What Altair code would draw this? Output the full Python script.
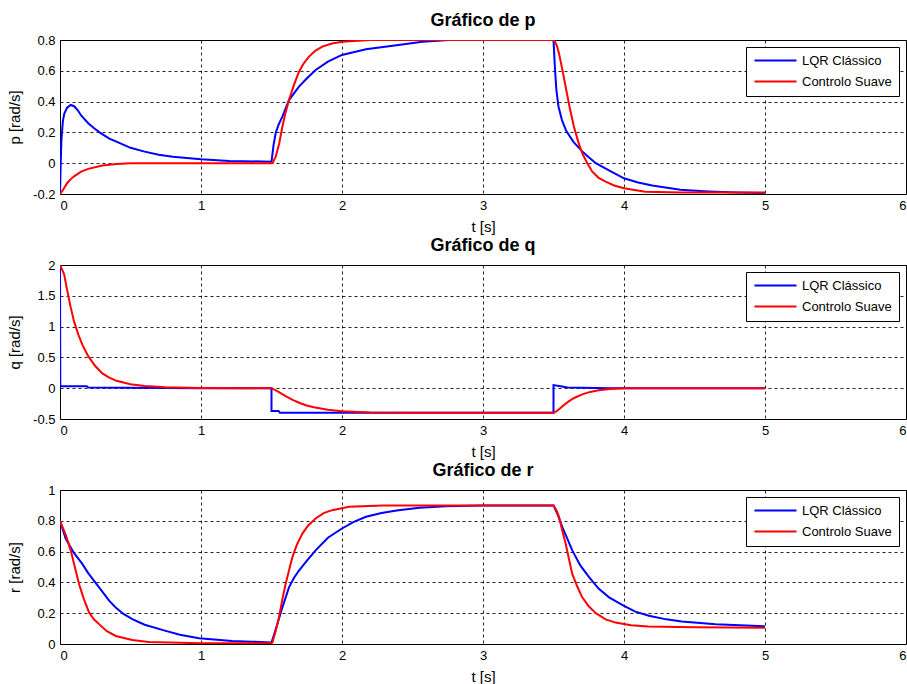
import altair as alt
import pandas as pd

# ---- p (roll rate) ----
t_p_lqr = [0, 0.005, 0.01, 0.02, 0.03, 0.05, 0.076, 0.1, 0.125, 0.15, 0.2, 0.24, 0.28, 0.35, 0.4, 0.5, 0.6, 0.7, 0.8, 1.0, 1.2, 1.5,
           1.515, 1.53, 1.55, 1.577, 1.624, 1.695, 1.75, 1.813, 1.9, 2.0, 2.17, 2.4, 2.57, 2.76, 3.0, 3.5,
           3.51, 3.52, 3.535, 3.56, 3.59, 3.64, 3.7, 3.75, 3.8, 3.9, 4.0, 4.1, 4.2, 4.4, 4.6, 4.8, 5.0]
p_lqr = [-0.2, 0.0, 0.15, 0.27, 0.32, 0.36, 0.378, 0.37, 0.345, 0.31, 0.26, 0.228, 0.2, 0.16, 0.14, 0.1, 0.075, 0.055, 0.042, 0.025, 0.015, 0.01,
         0.12, 0.196, 0.25, 0.302, 0.41, 0.497, 0.55, 0.605, 0.66, 0.703, 0.74, 0.768, 0.789, 0.8, 0.8, 0.8,
         0.62, 0.48, 0.37, 0.28, 0.21, 0.14, 0.08, 0.038, 0.0, -0.05, -0.098, -0.125, -0.145, -0.172, -0.183, -0.19, -0.193]
t_p_suave = [0, 0.02, 0.05, 0.075, 0.1, 0.15, 0.2, 0.3, 0.4, 0.5, 1.5,
             1.51, 1.53, 1.555, 1.577, 1.6, 1.624, 1.66, 1.695, 1.73, 1.766, 1.81, 1.86, 1.93, 2.0, 2.2, 3.5,
             3.51, 3.525, 3.539, 3.56, 3.586, 3.615, 3.645, 3.675, 3.704, 3.74, 3.775, 3.82, 3.87, 3.93, 4.0, 4.15, 4.4, 5.0]
p_suave = [-0.2, -0.175, -0.13, -0.105, -0.085, -0.055, -0.037, -0.015, -0.005, 0.0, 0.0,
           0.006, 0.042, 0.13, 0.237, 0.33, 0.41, 0.51, 0.594, 0.65, 0.692, 0.73, 0.757, 0.777, 0.789, 0.8, 0.8,
           0.79, 0.76, 0.713, 0.62, 0.497, 0.36, 0.237, 0.14, 0.064, 0.0, -0.055, -0.095, -0.12, -0.145, -0.163, -0.185, -0.19, -0.19]

# ---- q (pitch rate) ----
t_q_lqr = [0, 0.002, 0.19, 0.2, 0.75, 1.0, 1.5, 1.5, 1.55, 1.56, 3.5, 3.5, 3.55, 3.6, 3.9, 5.0]
q_lqr = [2.0, 0.03, 0.03, 0.01, 0.005, 0.0, 0.0, -0.37, -0.37, -0.4, -0.4, 0.05, 0.03, 0.01, 0.0, 0.0]
t_q_suave = [0, 0.02, 0.03, 0.05, 0.075, 0.1, 0.13, 0.16, 0.2, 0.25, 0.3, 0.35, 0.4, 0.5, 0.6, 0.75, 1.0, 1.5,
             1.55, 1.6, 1.65, 1.7, 1.75, 1.8, 1.9, 2.0, 2.2, 2.5, 3.5,
             3.52, 3.539, 3.57, 3.61, 3.65, 3.704, 3.76, 3.82, 3.9, 4.0, 5.0]
q_suave = [2.0, 1.9, 1.84, 1.6, 1.32, 1.08, 0.87, 0.7, 0.52, 0.36, 0.24, 0.17, 0.12, 0.065, 0.035, 0.015, 0.005, 0.0,
           -0.06, -0.13, -0.19, -0.24, -0.28, -0.31, -0.35, -0.375, -0.393, -0.4, -0.4,
           -0.375, -0.343, -0.28, -0.21, -0.155, -0.1, -0.06, -0.034, -0.012, 0.0, 0.0]

# ---- r (yaw rate) ----
t_r_lqr = [0, 0.04, 0.1, 0.158, 0.2, 0.277, 0.35, 0.395, 0.45, 0.513, 0.6, 0.75, 0.85, 0.986, 1.22, 1.36, 1.5,
           1.53, 1.577, 1.624, 1.66, 1.695, 1.75, 1.813, 1.9, 2.0, 2.08, 2.17, 2.28, 2.4, 2.55, 2.735, 3.0, 3.5,
           3.53, 3.562, 3.6, 3.633, 3.69, 3.752, 3.82, 3.894, 4.0, 4.08, 4.177, 4.3, 4.41, 4.65, 5.0]
r_lqr = [0.8, 0.684, 0.59, 0.52, 0.46, 0.368, 0.28, 0.237, 0.195, 0.161, 0.125, 0.085, 0.06, 0.037, 0.02, 0.015, 0.01,
         0.096, 0.237, 0.368, 0.43, 0.477, 0.54, 0.608, 0.69, 0.75, 0.792, 0.826, 0.85, 0.869, 0.884, 0.895, 0.9, 0.9,
         0.84, 0.76, 0.68, 0.608, 0.51, 0.434, 0.36, 0.303, 0.248, 0.21, 0.183, 0.16, 0.146, 0.129, 0.115]
t_r_suave = [0, 0.04, 0.076, 0.1, 0.135, 0.17, 0.206, 0.24, 0.277, 0.33, 0.395, 0.513, 0.63, 1.0, 1.5,
             1.506, 1.53, 1.553, 1.575, 1.6, 1.625, 1.648, 1.68, 1.719, 1.76, 1.813, 1.87, 1.93, 2.05, 2.29, 3.5,
             3.52, 3.539, 3.56, 3.586, 3.61, 3.633, 3.67, 3.704, 3.75, 3.8, 3.87, 3.94, 4.05, 4.17, 4.5, 5.0]
r_suave = [0.8, 0.71, 0.608, 0.52, 0.39, 0.29, 0.205, 0.16, 0.129, 0.085, 0.052, 0.026, 0.013, 0.005, 0.005,
           0.009, 0.085, 0.172, 0.28, 0.39, 0.48, 0.564, 0.645, 0.717, 0.77, 0.815, 0.85, 0.869, 0.891, 0.9, 0.9,
           0.87, 0.826, 0.745, 0.652, 0.55, 0.455, 0.37, 0.303, 0.245, 0.2, 0.16, 0.139, 0.122, 0.113, 0.108, 0.105]

series_names = ["LQR Clássico", "Controlo Suave"]
series_colors = ["#0000ff", "#ff0000"]
x_ticks = [0, 1, 2, 3, 4, 5, 6]

FONT = "Liberation Sans"
W, H = 846, 154


def frame(t_a, y_a, t_b, y_b):
    rows = []
    for name, ts, ys in ((series_names[0], t_a, y_a), (series_names[1], t_b, y_b)):
        for i, (t, y) in enumerate(zip(ts, ys)):
            rows.append({"t": t, "v": y, "serie": name, "i": i})
    return pd.DataFrame(rows)


def panel(df, title, ylabel, ydomain, yticks):
    x = alt.X("t:Q",
              scale=alt.Scale(domain=[0, 6], nice=False),
              axis=alt.Axis(values=x_ticks, title="t [s]", titleX=W / 2, titleY=37,
                            titleBaseline="alphabetic", titleAlign="center"))
    y = alt.Y("v:Q",
              scale=alt.Scale(domain=ydomain, nice=False, zero=False),
              axis=alt.Axis(values=yticks, title=ylabel, labelExpr="'' + datum.value",
                            titleX=-41, titleY=H / 2, titleAngle=270,
                            titleBaseline="alphabetic", titleAlign="center"))
    color = alt.Color("serie:N",
                      scale=alt.Scale(domain=series_names, range=series_colors),
                      legend=alt.Legend(orient="none", legendX=686, legendY=7, title=None,
                                        symbolType="M-1,0L7.4,0", symbolSize=100,
                                        symbolStrokeWidth=2, labelOffset=36,
                                        padding=7, rowPadding=7,
                                        strokeColor="black", fillColor="white",
                                        labelFont=FONT, labelFontSize=13, labelColor="black"))
    base = alt.Chart(df).mark_line(strokeWidth=2, clip=True).encode(
        x=x, y=y, color=color, order=alt.Order("i:Q"))
    blue = base.transform_filter(alt.datum.serie == series_names[0])
    red = base.transform_filter(alt.datum.serie == series_names[1])
    return alt.layer(blue, red).properties(
        width=W, height=H,
        title=alt.TitleParams(title, font=FONT, fontSize=18, fontWeight="bold",
                              anchor="middle", baseline="alphabetic", offset=12, dy=22,
                              color="black"))


chart_p = panel(frame(t_p_lqr, p_lqr, t_p_suave, p_suave), "Gráfico de p", "p [rad/s]",
                [-0.2, 0.8], [-0.2, 0, 0.2, 0.4, 0.6, 0.8])
chart_q = panel(frame(t_q_lqr, q_lqr, t_q_suave, q_suave), "Gráfico de q", "q [rad/s]",
                [-0.5, 2], [-0.5, 0, 0.5, 1, 1.5, 2])
chart_r = panel(frame(t_r_lqr, r_lqr, t_r_suave, r_suave), "Gráfico de r", "r [rad/s]",
                [0, 1], [0, 0.2, 0.4, 0.6, 0.8, 1])

chart = alt.vconcat(chart_p, chart_q, chart_r, spacing=71, bounds="flush").resolve_scale(
    color="independent").resolve_legend(color="independent").properties(
    padding={"left": 6, "top": 11, "right": 0, "bottom": 0},
    background="white",
).configure_view(
    stroke="black", strokeWidth=1
).configure_axis(
    labelFont=FONT, labelFontSize=13, labelColor="black", labelPadding=5,
    titleFont=FONT, titleFontSize=15, titleFontWeight="normal", titleColor="black",
    ticks=False, tickSize=0, domain=False,
    grid=True, gridColor="black", gridDash=[3, 3], gridWidth=1, gridOpacity=0.85,
)

chart.save("out.html", embed_options={"renderer": "svg", "actions": False})
